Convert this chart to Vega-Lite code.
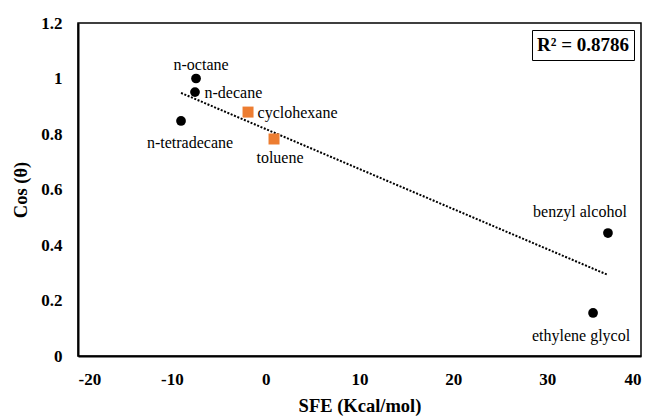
{
  "$schema": "https://vega.github.io/schema/vega-lite/v6.json",
  "width": 563,
  "height": 333,
  "autosize": {"type": "none"},
  "padding": {"left": 78, "top": 23, "right": 11, "bottom": 60},
  "background": "white",
  "config": {
    "view": {"stroke": "black", "strokeWidth": 1.5},
    "font": "'Liberation Serif', 'Times New Roman', 'DejaVu Serif', serif",
    "text": {"font": "'Liberation Serif', 'Times New Roman', 'DejaVu Serif', serif"},
    "axis": {
      "grid": false,
      "ticks": false,
      "domainColor": "black",
      "domainWidth": 2,
      "labelFont": "'Liberation Serif', 'Times New Roman', 'DejaVu Serif', serif",
      "labelFontWeight": "bold",
      "labelFontSize": 17,
      "labelColor": "black",
      "titleFont": "'Liberation Serif', 'Times New Roman', 'DejaVu Serif', serif",
      "titleFontWeight": "bold",
      "titleFontSize": 18.5,
      "titleColor": "black"
    },
    "legend": {
      "labelFont": "'Liberation Serif', 'Times New Roman', 'DejaVu Serif', serif"
    }
  },
  "datasets": {
    "solvents": [
      {"solvent": "n-octane", "sfe": -7.42, "cos": 1.0, "series": "circle"},
      {"solvent": "n-decane", "sfe": -7.53, "cos": 0.951, "series": "circle"},
      {"solvent": "n-tetradecane", "sfe": -9.02, "cos": 0.847, "series": "circle"},
      {"solvent": "cyclohexane", "sfe": -1.88, "cos": 0.879, "series": "square"},
      {"solvent": "toluene", "sfe": 0.89, "cos": 0.782, "series": "square"},
      {"solvent": "benzyl alcohol", "sfe": 36.48, "cos": 0.443, "series": "circle"},
      {"solvent": "ethylene glycol", "sfe": 34.89, "cos": 0.155, "series": "circle"}
    ],
    "trend": [
      {"sfe": -9.02, "cos": 0.948},
      {"sfe": 36.48, "cos": 0.292}
    ]
  },
  "layer": [
    {
      "data": {"name": "trend"},
      "mark": {"type": "line", "strokeWidth": 2, "strokeDash": [2, 1.6], "strokeCap": "butt"},
      "encoding": {
        "x": {"field": "sfe", "type": "quantitative", "scale": {"domain": [-20, 40], "nice": false},
              "axis": {"values": [-20, -10, 0, 10, 20, 30, 40], "labelExpr": "replace(datum.label, '\u2212', '-')", "labelPadding": 15, "titlePadding": 9, "title": "SFE (Kcal/mol)"}},
        "y": {"field": "cos", "type": "quantitative", "scale": {"domain": [0, 1.2], "nice": false},
              "axis": {"values": [0, 0.2, 0.4, 0.6, 0.8, 1, 1.2], "format": ".1~f", "labelPadding": 16, "titlePadding": 10, "title": "Cos (θ)"}},
        "stroke": {
          "datum": "R² = 0.8786",
          "type": "nominal",
          "scale": {"range": ["black"]},
          "legend": {
            "title": null,
            "orient": "top-right",
            "offset": 7,
            "strokeColor": "black",
            "padding": 5,
            "symbolType": "circle",
            "symbolSize": 0,
            "symbolStrokeWidth": 0,
            "labelOffset": -19,
            "labelFontWeight": "bold",
            "labelFontSize": 19,
            "labelColor": "black",
            "labelLimit": 300
          }
        }
      }
    },
    {
      "data": {"name": "solvents"},
      "mark": {"type": "point", "filled": true, "opacity": 1},
      "encoding": {
        "x": {"field": "sfe", "type": "quantitative"},
        "y": {"field": "cos", "type": "quantitative"},
        "fill": {"field": "series", "type": "nominal", "scale": {"domain": ["circle", "square"], "range": ["black", "#ED7D31"]}, "legend": null},
        "shape": {"field": "series", "type": "nominal", "scale": {"domain": ["circle", "square"], "range": ["circle", "square"]}, "legend": null},
        "size": {"field": "series", "type": "nominal", "scale": {"domain": ["circle", "square"], "range": [95, 121]}, "legend": null}
      }
    },
    {
      "data": {"name": "solvents"},
      "transform": [{"filter": "datum.solvent === 'n-octane'"}],
      "mark": {"type": "text", "align": "center", "baseline": "middle", "dx": 5, "dy": -14, "fontSize": 16, "color": "black"},
      "encoding": {"x": {"field": "sfe", "type": "quantitative"}, "y": {"field": "cos", "type": "quantitative"}, "text": {"field": "solvent"}}
    },
    {
      "data": {"name": "solvents"},
      "transform": [{"filter": "datum.solvent === 'n-decane' || datum.solvent === 'cyclohexane'"}],
      "mark": {"type": "text", "align": "left", "baseline": "middle", "dx": 9.5, "dy": 1, "fontSize": 16, "color": "black"},
      "encoding": {"x": {"field": "sfe", "type": "quantitative"}, "y": {"field": "cos", "type": "quantitative"}, "text": {"field": "solvent"}}
    },
    {
      "data": {"name": "solvents"},
      "transform": [{"filter": "datum.solvent === 'n-tetradecane'"}],
      "mark": {"type": "text", "align": "center", "baseline": "middle", "dx": 9, "dy": 22, "fontSize": 16, "color": "black"},
      "encoding": {"x": {"field": "sfe", "type": "quantitative"}, "y": {"field": "cos", "type": "quantitative"}, "text": {"field": "solvent"}}
    },
    {
      "data": {"name": "solvents"},
      "transform": [{"filter": "datum.solvent === 'toluene'"}],
      "mark": {"type": "text", "align": "center", "baseline": "middle", "dx": 6, "dy": 19, "fontSize": 16, "color": "black"},
      "encoding": {"x": {"field": "sfe", "type": "quantitative"}, "y": {"field": "cos", "type": "quantitative"}, "text": {"field": "solvent"}}
    },
    {
      "data": {"name": "solvents"},
      "transform": [{"filter": "datum.solvent === 'benzyl alcohol'"}],
      "mark": {"type": "text", "align": "center", "baseline": "middle", "dx": -28, "dy": -21, "fontSize": 16, "color": "black"},
      "encoding": {"x": {"field": "sfe", "type": "quantitative"}, "y": {"field": "cos", "type": "quantitative"}, "text": {"field": "solvent"}}
    },
    {
      "data": {"name": "solvents"},
      "transform": [{"filter": "datum.solvent === 'ethylene glycol'"}],
      "mark": {"type": "text", "align": "center", "baseline": "middle", "dx": -12, "dy": 23, "fontSize": 16, "color": "black"},
      "encoding": {"x": {"field": "sfe", "type": "quantitative"}, "y": {"field": "cos", "type": "quantitative"}, "text": {"field": "solvent"}}
    }
  ]
}
